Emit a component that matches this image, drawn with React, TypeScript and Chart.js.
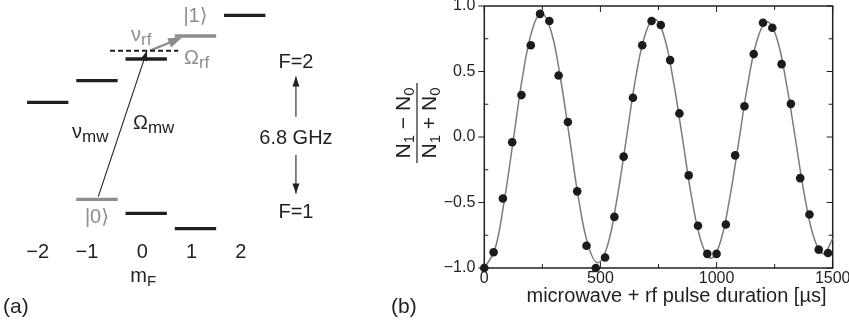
import React, { useEffect, useRef } from "react";
import { Chart, registerables } from "chart.js";

Chart.register(...registerables);

// ---------- Panel (a): hyperfine level diagram ----------
const mFTicks = [-2, -1, 0, 1, 2];
const mFLabels = ["\u22122", "\u22121", "0", "1", "2"];
const levelEnergyF2 = [221.7, 243.3, 265, 288, 308.7]; // arbitrary energy units, F=2, mF=-2..2
const mFValuesF1 = [-1, 0, 1];
const levelEnergyF1 = [124.7, 110.7, 95.3]; // F=1, mF=-1..1
const virtualLevelEnergy = 273.3;
const virtualLevelSpan = [-0.735, 0.65];
const mwArrow = [
  { x: -0.973, y: 127.3 },
  { x: 0.016, y: 273.3 },
];
const rfArrow = [
  { x: 0.077, y: 273.3 },
  { x: 0.73, y: 286.5 },
];
const splitArrowUp = [
  { x: 3.04, y: 207.3 },
  { x: 3.04, y: 247.5 },
];
const splitArrowDown = [
  { x: 3.04, y: 169 },
  { x: 3.04, y: 130.5 },
];

// ---------- Panel (b): Rabi oscillation ----------
const pulseDurationUs = [
  0, 40, 80, 120, 160, 200, 240, 280, 320, 360, 400, 440, 480, 520, 560, 600, 640, 680, 720,
  760, 800, 840, 880, 920, 960, 1000, 1040, 1080, 1120, 1160, 1200, 1240, 1280, 1320, 1360,
  1400, 1440, 1480,
];
const populationRatio = [
  -1.0, -0.88, -0.47, -0.04, 0.32, 0.7, 0.94, 0.885, 0.47, 0.115, -0.415, -0.83, -1.0, -0.92,
  -0.61, -0.15, 0.3, 0.7, 0.885, 0.855, 0.587, 0.18, -0.293, -0.678, -0.892, -0.892, -0.668,
  -0.14, 0.235, 0.633, 0.872, 0.834, 0.556, 0.253, -0.314, -0.592, -0.86, -0.885,
];
const fitTimeUs = [
  0, 44, 84, 125, 165, 206, 246, 287, 327, 368, 408, 449, 489, 530, 570, 611, 651, 692, 732,
  773, 813, 854, 894, 935, 975, 1016, 1056, 1097, 1137, 1178, 1218, 1259, 1299, 1340, 1380,
  1421, 1461, 1500,
];
const fitRatio = [
  -1.0, -0.867, -0.508, -0.02, 0.465, 0.817, 0.945, 0.811, 0.458, -0.02, -0.494, -0.837, -0.96,
  -0.831, -0.486, -0.02, 0.443, 0.778, 0.9, 0.775, 0.4375, -0.02, -0.475, -0.805, -0.925,
  -0.803, -0.4715, -0.02, 0.4305, 0.759, 0.88, 0.755, 0.425, -0.02, -0.46, -0.779, -0.892,
  -0.775,
];
const xMajorTicks = [0, 500, 1000, 1500];
const xMinorTicks = [250, 750, 1250];
const yMajorTicks = [-1, -0.5, 0, 0.5, 1];
const yMinorTicks = [-0.75, -0.25, 0.25, 0.75];

const FONT = "'Liberation Sans', Arial, Helvetica, 'DejaVu Sans', sans-serif";
const INK = "#231f20";
const GRAY = "#8d8d8d";

type Part = [string, boolean];

function richWidth(ctx: CanvasRenderingContext2D, parts: Part[], size: number, sub: number) {
  let w = 0;
  for (const [t, s] of parts) {
    ctx.font = `${s ? sub : size}px ${FONT}`;
    w += ctx.measureText(t).width;
  }
  return w;
}

function drawRich(
  ctx: CanvasRenderingContext2D,
  parts: Part[],
  x: number,
  y: number,
  align: "left" | "center",
  size: number,
  sub: number,
  color: string,
  subDrop = 4
) {
  const w = richWidth(ctx, parts, size, sub);
  let cx = align === "center" ? x - w / 2 : x;
  ctx.fillStyle = color;
  ctx.textAlign = "left";
  ctx.textBaseline = "alphabetic";
  for (const [t, s] of parts) {
    ctx.font = `${s ? sub : size}px ${FONT}`;
    ctx.fillText(t, cx, s ? y + subDrop : y);
    cx += ctx.measureText(t).width;
  }
}

function arrowHead(
  ctx: CanvasRenderingContext2D,
  x0: number,
  y0: number,
  x1: number,
  y1: number,
  len: number,
  half: number,
  color: string
) {
  const a = Math.atan2(y1 - y0, x1 - x0);
  const bx = x1 - len * Math.cos(a);
  const by = y1 - len * Math.sin(a);
  ctx.fillStyle = color;
  ctx.beginPath();
  ctx.moveTo(x1, y1);
  ctx.lineTo(bx + half * Math.sin(a), by - half * Math.cos(a));
  ctx.lineTo(bx - half * Math.sin(a), by + half * Math.cos(a));
  ctx.closePath();
  ctx.fill();
}

function levelDataset(m: number, e: number, color: string) {
  return {
    data: [
      { x: m - 0.42, y: e },
      { x: m + 0.42, y: e },
    ],
    borderColor: color,
    borderWidth: 3.3,
    pointRadius: 0,
    showLine: true,
  };
}

const diagramPlugin = {
  id: "diagram",
  afterDatasetsDraw(chart: any) {
    const ctx: CanvasRenderingContext2D = chart.ctx;
    const X = (v: number) => chart.scales.x.getPixelForValue(v);
    const Y = (v: number) => chart.scales.y.getPixelForValue(v);
    ctx.save();
    // arrowheads
    arrowHead(ctx, X(mwArrow[0].x), Y(mwArrow[0].y), X(mwArrow[1].x), Y(mwArrow[1].y), 10, 3.5, INK);
    arrowHead(ctx, X(rfArrow[0].x), Y(rfArrow[0].y), X(rfArrow[1].x), Y(rfArrow[1].y), 14, 5, GRAY);
    arrowHead(ctx, X(splitArrowUp[0].x), Y(splitArrowUp[0].y), X(splitArrowUp[1].x), Y(splitArrowUp[1].y), 10, 3.5, INK);
    arrowHead(ctx, X(splitArrowDown[0].x), Y(splitArrowDown[0].y), X(splitArrowDown[1].x), Y(splitArrowDown[1].y), 10, 3.5, INK);

    // mF tick labels
    ctx.font = `20px ${FONT}`;
    ctx.fillStyle = INK;
    ctx.textAlign = "center";
    ctx.textBaseline = "alphabetic";
    mFTicks.forEach((m, i) => {
      const off = m < 0 ? -10 : -4;
      ctx.fillText(mFLabels[i], X(m) + off, 258);
    });
    drawRich(ctx, [["m", false], ["F", true]], X(0) - 3, 282, "center", 20, 15, INK, 4);

    // state labels
    drawRich(ctx, [["|1\u27e9", false]], X(1), Y(levelEnergyF2[3]) - 14, "center", 20, 14, GRAY);
    drawRich(ctx, [["|0\u27e9", false]], X(-1), Y(levelEnergyF1[0]) + 24, "center", 20, 14, GRAY);
    drawRich(ctx, [["\u03bd", false], ["rf", true]], 131, 41, "left", 20, 17, GRAY, 4);
    drawRich(ctx, [["\u03a9", false], ["rf", true]], 184, 64, "left", 20, 17, GRAY, 4);
    drawRich(ctx, [["\u03bd", false], ["mw", true]], 72, 138, "left", 20, 17, INK, 4);
    drawRich(ctx, [["\u03a9", false], ["mw", true]], 133, 129, "left", 20, 17, INK, 4);

    // hyperfine labels
    const xs = X(splitArrowUp[0].x);
    drawRich(ctx, [["F=2", false]], xs, 68, "center", 20, 14, INK);
    drawRich(ctx, [["F=1", false]], xs, 218, "center", 20, 14, INK);
    drawRich(ctx, [["6.8 GHz", false]], xs, 144, "center", 20, 14, INK);

    drawRich(ctx, [["(a)", false]], 3, 313, "left", 21, 14, INK);
    ctx.restore();
  },
};

function tickMarks(
  ctx: CanvasRenderingContext2D,
  chart: any,
  horizontal: boolean,
  values: number[],
  len: number,
  edge: "bottom" | "top" | "left" | "right"
) {
  const { left, right, top, bottom } = chart.chartArea;
  for (const v of values) {
    ctx.beginPath();
    if (horizontal) {
      const p = chart.scales.x.getPixelForValue(v);
      if (edge === "bottom") {
        ctx.moveTo(p, bottom);
        ctx.lineTo(p, bottom - len);
      } else {
        ctx.moveTo(p, top);
        ctx.lineTo(p, top + len);
      }
    } else {
      const p = chart.scales.y.getPixelForValue(v);
      if (edge === "left") {
        ctx.moveTo(left, p);
        ctx.lineTo(left + len, p);
      } else {
        ctx.moveTo(right, p);
        ctx.lineTo(right - len, p);
      }
    }
    ctx.stroke();
  }
}

const framePlugin = {
  id: "frame",
  beforeDatasetsDraw(chart: any) {
    const ctx: CanvasRenderingContext2D = chart.ctx;
    const { left, right, top, bottom } = chart.chartArea;
    ctx.save();
    ctx.strokeStyle = INK;
    ctx.lineWidth = 1.5;
    ctx.strokeRect(left, top, right - left, bottom - top);
    ctx.lineWidth = 1;
    tickMarks(ctx, chart, true, xMajorTicks, 6, "bottom");
    tickMarks(ctx, chart, true, xMinorTicks, 4, "bottom");
    tickMarks(ctx, chart, true, xMajorTicks, 6, "top");
    tickMarks(ctx, chart, true, xMinorTicks, 4, "top");
    tickMarks(ctx, chart, false, yMajorTicks, -6, "left");
    tickMarks(ctx, chart, false, yMinorTicks, 4, "left");
    tickMarks(ctx, chart, false, yMajorTicks, 6, "right");
    tickMarks(ctx, chart, false, yMinorTicks, 4, "right");
    ctx.restore();
  },
  afterDraw(chart: any) {
    const ctx: CanvasRenderingContext2D = chart.ctx;
    ctx.save();
    // y-axis title: (N1 - N0)/(N1 + N0), rotated
    const cx = 417 - 390;
    const cy = 123;
    ctx.translate(cx, cy);
    ctx.rotate(-Math.PI / 2);
    const num: Part[] = [["N", false], ["1", true], [" \u2212 ", false], ["N", false], ["0", true]];
    const den: Part[] = [["N", false], ["1", true], [" + ", false], ["N", false], ["0", true]];
    drawRich(ctx, num, 0, -7, "center", 21, 15, INK, 4);
    drawRich(ctx, den, 0, 19, "center", 21, 15, INK, 4);
    ctx.strokeStyle = INK;
    ctx.lineWidth = 1.2;
    ctx.beginPath();
    ctx.moveTo(-40, 0);
    ctx.lineTo(40, 0);
    ctx.stroke();
    ctx.setTransform(1, 0, 0, 1, 0, 0);
    // x-axis title
    drawRich(ctx, [["microwave + rf pulse duration [\u00b5s]", false]], 676.5 - 390, 302, "center", 20, 14, INK);
    drawRich(ctx, [["(b)", false]], 1, 313, "left", 21, 14, INK);
    ctx.restore();
  },
};

export default function App() {
  const refA = useRef<HTMLCanvasElement>(null);
  const refB = useRef<HTMLCanvasElement>(null);

  useEffect(() => {
    document.body.style.margin = "0";
    const datasetsA: any[] = [];
    mFTicks.forEach((m, i) => datasetsA.push(levelDataset(m, levelEnergyF2[i], m === 1 ? GRAY : INK)));
    mFValuesF1.forEach((m, i) => datasetsA.push(levelDataset(m, levelEnergyF1[i], m === -1 ? GRAY : INK)));
    datasetsA.push({
      data: [
        { x: virtualLevelSpan[0], y: virtualLevelEnergy },
        { x: virtualLevelSpan[1], y: virtualLevelEnergy },
      ],
      borderColor: INK,
      borderWidth: 2,
      borderDash: [5, 3],
      pointRadius: 0,
      showLine: true,
    });
    datasetsA.push({ data: mwArrow, borderColor: INK, borderWidth: 1.1, pointRadius: 0, showLine: true });
    datasetsA.push({ data: rfArrow.map((p, i) => (i === 1 ? { x: p.x - 0.15, y: p.y - 3 } : p)), borderColor: GRAY, borderWidth: 2.4, pointRadius: 0, showLine: true });
    datasetsA.push({ data: splitArrowUp, borderColor: INK, borderWidth: 1.1, pointRadius: 0, showLine: true });
    datasetsA.push({ data: splitArrowDown, borderColor: INK, borderWidth: 1.1, pointRadius: 0, showLine: true });

    const chartA = new Chart(refA.current as HTMLCanvasElement, {
      type: "scatter",
      data: { datasets: datasetsA },
      options: {
        animation: false,
        responsive: false,
        events: [],
        layout: { padding: 0 },
        plugins: { legend: { display: false }, tooltip: { enabled: false } },
        scales: {
          x: { type: "linear", display: false, min: -2.969, max: 4.95 },
          y: { type: "linear", display: false, min: 0, max: 324 },
        },
      },
      plugins: [diagramPlugin],
    } as any);

    const chartB = new Chart(refB.current as HTMLCanvasElement, {
      type: "scatter",
      data: {
        datasets: [
          {
            data: fitTimeUs.map((t, i) => ({ x: t, y: fitRatio[i] })),
            showLine: true,
            borderColor: "#7b7b7b",
            borderWidth: 1.5,
            pointRadius: 0,
            tension: 0.4,
            order: 2,
          },
          {
            data: pulseDurationUs.map((t, i) => ({ x: t, y: populationRatio[i] })),
            pointRadius: 4.3,
            pointBackgroundColor: "#1b1b1b",
            pointBorderWidth: 0,
            clip: false,
            order: 1,
          },
        ],
      },
      options: {
        animation: false,
        responsive: false,
        events: [],
        layout: { padding: { top: 6, right: 16.3, left: 0, bottom: 0 } },
        plugins: { legend: { display: false }, tooltip: { enabled: false } },
        scales: {
          x: {
            type: "linear",
            min: 0,
            max: 1500,
            grid: { display: false, drawTicks: false },
            border: { display: false },
            ticks: {
              stepSize: 500,
              autoSkip: false,
              maxRotation: 0,
              padding: 1,
              color: INK,
              font: { family: FONT, size: 16 },
              callback: (v: any) => String(Math.round(Number(v))),
            },
            afterFit(scale: any) {
              scale.height = 56;
              scale.paddingLeft = 0;
              scale.paddingRight = 0;
            },
          },
          y: {
            type: "linear",
            min: -1,
            max: 1,
            grid: { display: false, drawTicks: false },
            border: { display: false },
            ticks: {
              stepSize: 0.5,
              padding: 9,
              color: INK,
              font: { family: FONT, size: 16 },
              callback: (v: any) => (Number(v) < -1e-9 ? "\u2212" : "") + Math.abs(Number(v)).toFixed(1),
            },
            afterFit(scale: any) {
              scale.width = 94.3;
              scale.paddingTop = 0;
              scale.paddingBottom = 0;
            },
          },
        },
      },
      plugins: [framePlugin],
    } as any);

    return () => {
      chartA.destroy();
      chartB.destroy();
    };
  }, []);

  return (
    <div style={{ position: "fixed", left: 0, top: 0, width: 849, height: 324, background: "#fff" }}>
      <canvas ref={refA} width={390} height={324} style={{ position: "absolute", left: 0, top: 0, width: 390, height: 324 }} />
      <canvas ref={refB} width={459} height={324} style={{ position: "absolute", left: 390, top: 0, width: 459, height: 324 }} />
    </div>
  );
}
